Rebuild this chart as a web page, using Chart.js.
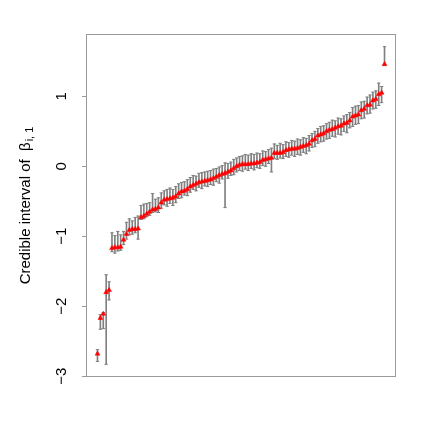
<!DOCTYPE html>
<html lang="en">
<head>
<meta charset="UTF-8">
<title>Credible interval of beta</title>
<script src="https://cdn.jsdelivr.net/npm/chart.js"></script>
<style>
    html, body { margin: 0; padding: 0; background: #ffffff; }
</style>
</head>
<body>
<canvas id="chartCanvas" width="430" height="430"></canvas>
<script>
    // posterior point estimates, sorted
    const est = [
        -2.68, -2.17, -2.11, -1.80, -1.77, -1.17, -1.16, -1.16, -1.15, -1.05,
        -0.97, -0.91, -0.90, -0.90, -0.89, -0.73, -0.71, -0.68, -0.65, -0.62,
        -0.61, -0.59, -0.52, -0.48, -0.47, -0.46, -0.45, -0.43, -0.39, -0.36,
        -0.35, -0.33, -0.29, -0.27, -0.25, -0.23, -0.22, -0.21, -0.20, -0.19,
        -0.17, -0.15, -0.13, -0.11, -0.10, -0.08, -0.06, -0.03, 0.00, 0.02,
        0.03, 0.03, 0.03, 0.04, 0.04, 0.05, 0.06, 0.09, 0.10, 0.11,
        0.12, 0.19, 0.19, 0.19, 0.20, 0.23, 0.24, 0.25, 0.25, 0.26,
        0.275, 0.29, 0.30, 0.32, 0.37, 0.39, 0.44, 0.455, 0.47, 0.50,
        0.52, 0.53, 0.55, 0.57, 0.58, 0.61, 0.62, 0.655, 0.71, 0.725,
        0.74, 0.80, 0.82, 0.87, 0.88, 0.94, 0.96, 1.03, 1.05, 1.46
    ];
    // lower ends of the intervals
    const lo = [
        -2.79, -2.33, -2.32, -2.83, -1.91, -1.22, -1.24, -1.21, -1.20, -1.12,
        -1.04, -0.98, -0.97, -0.95, -1.04, -0.76, -0.75, -0.72, -0.70, -0.66,
        -0.65, -0.66, -0.60, -0.55, -0.57, -0.53, -0.56, -0.52, -0.46, -0.45,
        -0.41, -0.42, -0.37, -0.33, -0.35, -0.30, -0.32, -0.28, -0.29, -0.26,
        -0.27, -0.22, -0.24, -0.18, -0.59, -0.17, -0.13, -0.12, -0.08, -0.06,
        -0.07, -0.04, -0.06, -0.03, -0.05, -0.02, -0.03, 0.01, 0.00, 0.04,
        -0.08, 0.11, 0.10, 0.12, 0.11, 0.14, 0.13, 0.16, 0.14, 0.17,
        0.16, 0.20, 0.18, 0.22, 0.27, 0.28, 0.33, 0.35, 0.36, 0.39,
        0.40, 0.43, 0.42, 0.46, 0.45, 0.50, 0.48, 0.55, 0.57, 0.60,
        0.61, 0.68, 0.69, 0.75, 0.76, 0.82, 0.83, 0.87, 0.91, 1.44
    ];
    // upper ends of the intervals
    const hi = [
        -2.62, -2.12, -2.09, -1.55, -1.65, -0.95, -0.99, -0.93, -0.98, -0.93,
        -0.80, -0.75, -0.78, -0.73, -0.71, -0.56, -0.54, -0.53, -0.52, -0.39,
        -0.47, -0.45, -0.38, -0.35, -0.33, -0.31, -0.33, -0.29, -0.25, -0.23,
        -0.22, -0.19, -0.16, -0.13, -0.14, -0.10, -0.09, -0.08, -0.07, -0.06,
        -0.04, -0.03, -0.01, 0.01, 0.05, 0.04, 0.06, 0.10, 0.12, 0.14,
        0.15, 0.17, 0.16, 0.18, 0.17, 0.19, 0.18, 0.22, 0.21, 0.24,
        0.26, 0.32, 0.30, 0.33, 0.31, 0.35, 0.34, 0.37, 0.36, 0.39,
        0.38, 0.41, 0.40, 0.44, 0.47, 0.50, 0.54, 0.57, 0.58, 0.61,
        0.63, 0.66, 0.65, 0.69, 0.68, 0.72, 0.74, 0.77, 0.84, 0.86,
        0.87, 0.92, 0.93, 0.99, 1.02, 1.06, 1.08, 1.19, 1.14, 1.71
    ];
    const yTicks = [-3, -2, -1, 0, 1];
    const yTickLabels = ['\u22123', '\u22122', '\u22121', '0', '1'];
    const titleMain = 'Credible interval of  \u03b2';
    const titleSub = 'i, 1';

    const n = est.length;
    const xs = est.map((_, i) => i + 1);

    // R style axis range: data range plus 4% on each side
    const xPad = 0.04 * (n - 1);
    const yLo = Math.min(...lo), yHi = Math.max(...hi);
    const yPad = 0.04 * (yHi - yLo);

    const GREY = '#808080';
    const FRAME = '#9a9a9a';
    const FONT = '"Liberation Sans", Arial, sans-serif';

    const framePlugin = {
        id: 'rframe',
        afterDraw(chart) {
            const ctx = chart.ctx;
            const a = chart.chartArea;
            const ys = chart.scales.y;
            ctx.save();
            // box around the plot
            ctx.strokeStyle = FRAME;
            ctx.lineWidth = 1;
            ctx.strokeRect(Math.round(a.left) + 0.5, Math.round(a.top) + 0.5,
                Math.round(a.right - a.left) - 1, Math.round(a.bottom - a.top) - 1);

            // y tick labels, parallel to the axis
            ctx.fillStyle = '#000000';
            ctx.font = '15px ' + FONT;
            ctx.textAlign = 'center';
            ctx.textBaseline = 'middle';
            yTicks.forEach((v, i) => {
                const py = ys.getPixelForValue(v);
                ctx.save();
                ctx.translate(62, py);
                ctx.rotate(-Math.PI / 2);
                ctx.fillText(yTickLabels[i], 0, 0);
                ctx.restore();
            });

            // axis title with subscript
            ctx.font = '15px ' + FONT;
            const w1 = ctx.measureText(titleMain).width;
            ctx.font = '11px ' + FONT;
            const w2 = ctx.measureText(titleSub).width;
            const total = w1 + w2 + 1;
            ctx.translate(26, (a.top + a.bottom) / 2);
            ctx.rotate(-Math.PI / 2);
            ctx.textAlign = 'left';
            ctx.font = '15px ' + FONT;
            ctx.fillText(titleMain, -total / 2, 0);
            ctx.font = '11px ' + FONT;
            ctx.fillText(titleSub, -total / 2 + w1 + 1, 4);
            ctx.restore();
        }
    };

    new Chart(document.getElementById('chartCanvas'), {
        type: 'bar',
        data: {
            datasets: [
                {
                    type: 'scatter',
                    data: xs.map((x, i) => ({ x: x, y: est[i] })),
                    pointStyle: 'triangle',
                    radius: 2.8,
                    backgroundColor: '#ff0000',
                    borderColor: '#ff0000',
                    borderWidth: 0.5,
                    order: 1
                },
                {
                    type: 'scatter',
                    data: xs.map((x, i) => ({ x: x, y: lo[i] })),
                    pointStyle: 'line',
                    radius: 1.7,
                    borderColor: GREY,
                    borderWidth: 1,
                    order: 2
                },
                {
                    type: 'scatter',
                    data: xs.map((x, i) => ({ x: x, y: hi[i] })),
                    pointStyle: 'line',
                    radius: 1.7,
                    borderColor: GREY,
                    borderWidth: 1,
                    order: 2
                },
                {
                    type: 'bar',
                    data: xs.map((x, i) => ({ x: x, y: [lo[i], hi[i]] })),
                    backgroundColor: GREY,
                    borderWidth: 0,
                    barThickness: 1,
                    grouped: false,
                    order: 3
                }
            ]
        },
        options: {
            responsive: false,
            animation: false,
            events: [],
            layout: { padding: { left: 82, right: 34, top: 34, bottom: 53 } },
            plugins: {
                legend: { display: false },
                tooltip: { enabled: false }
            },
            scales: {
                x: {
                    type: 'linear',
                    min: 1 - xPad,
                    max: n + xPad,
                    offset: false,
                    display: false
                },
                y: {
                    type: 'linear',
                    min: yLo - yPad,
                    max: yHi + yPad,
                    afterBuildTicks: (s) => { s.ticks = yTicks.map(v => ({ value: v })); },
                    ticks: { display: false },
                    grid: { drawOnChartArea: false, drawTicks: true, tickLength: 4, color: FRAME, lineWidth: 1 },
                    border: { display: false }
                }
            }
        },
        plugins: [framePlugin]
    });
</script>
</body>
</html>
